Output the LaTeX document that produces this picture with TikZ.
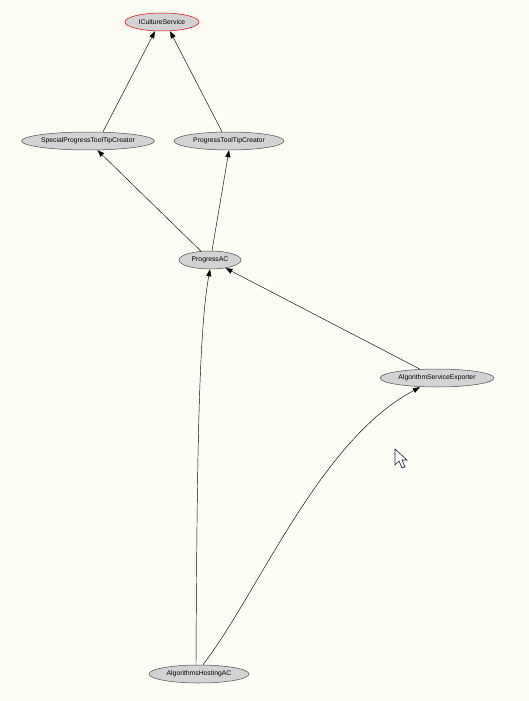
\documentclass[tikz,border=0pt]{standalone}
\usepackage{fontspec}
\setmainfont{Liberation Sans}
\usetikzlibrary{shapes.geometric,arrows.meta}
\definecolor{bgcream}{RGB}{253,253,246}
\definecolor{nodegray}{RGB}{211,211,211}
\definecolor{cursorline}{RGB}{30,30,60}
\tikzset{
  cls/.style={ellipse, draw=black!70, line width=0.5pt, fill=nodegray,
    inner sep=0pt, minimum height=18pt, font=\fontsize{6.8}{8}\selectfont},
  iface/.style={cls, draw=red!85!black},
  dep/.style={draw=black, line width=0.45pt, -{Triangle[length=7pt,width=5pt]}},
}
\begin{document}
\begin{tikzpicture}[x=1pt,y=-1pt]
  \fill[bgcream] (0,0) rectangle (529,701);
  \useasboundingbox (0,0) rectangle (529,701);

  \node[iface, minimum width=74pt] (ics) at (162,22) {ICultureService};
  \node[cls, minimum width=124pt] (sptc) at (88,141) {SpecialProgressToolTipCreator};
  \node[cls, minimum width=110pt] (ptc) at (229,141) {ProgressToolTipCreator};
  \node[cls, minimum width=62pt] (pac) at (210,260) {ProgressAC};
  \node[cls, minimum width=114pt] (ase) at (437,378) {AlgorithmServiceExporter};
  \node[cls, minimum width=100pt] (ahac) at (199,674) {AlgorithmsHostingAC};

  % attachment points on the ellipse borders
  \coordinate (s1) at ([xshift=15pt]sptc.north);
  \coordinate (i1) at ([xshift=-7pt]ics.south);
  \coordinate (p1) at ([xshift=-7pt]ptc.north);
  \coordinate (i2) at ([xshift=8pt]ics.south);
  \coordinate (a1) at ([xshift=2pt]pac.north);
  \coordinate (h1) at ([xshift=-3pt]ahac.north);
  \coordinate (h3) at ([xshift=4pt]ahac.north);
  \coordinate (e1) at ([xshift=-17pt]ase.south);

  \draw[dep] (s1) -- (i1);
  \draw[dep] (p1) -- (i2);
  \draw[dep] (pac) -- (sptc);
  \draw[dep] (a1) -- (ptc.south);
  \draw[dep] (ase) -- (pac);
  \draw[dep] (h1) .. controls (197,450) and (199,330) .. (pac.south);
  \draw[dep] (h3) .. controls (260,590) and (320,440) .. (e1);

  % mouse pointer
  \draw[cursorline, fill=white, line width=0.6pt, line join=miter]
    (395,449) -- (395,465) -- (399,461) -- (402,468) -- (405,467)
    -- (402,460) -- (407,460) -- cycle;
\end{tikzpicture}
\end{document}
